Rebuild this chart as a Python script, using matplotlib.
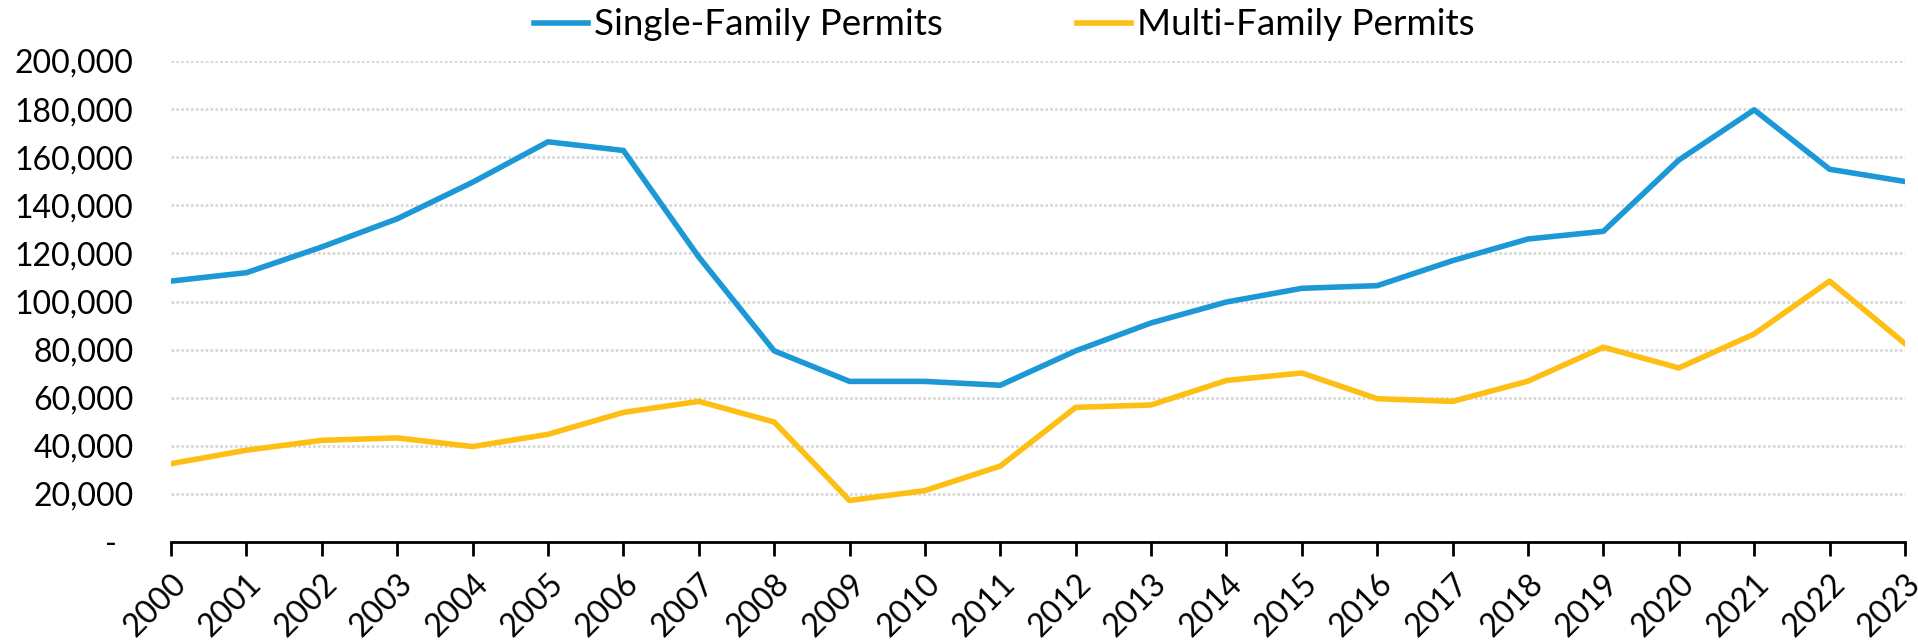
import matplotlib
matplotlib.use("Agg")
import matplotlib.pyplot as plt
from matplotlib.ticker import FuncFormatter, MultipleLocator

plt.rcParams['font.family'] = ['Lato', 'DejaVu Sans']

years = list(range(2000, 2024))
single_family = [108500, 112000, 122700, 134400, 149600, 166400, 162800, 118500,
                 79500, 66800, 66800, 65200, 79500, 91100, 99800, 105500,
                 106600, 117000, 126000, 129200, 158800, 179700, 155000, 149900]
multi_family = [32600, 38200, 42300, 43300, 39700, 44800, 53900, 58500,
                49900, 17300, 21400, 31600, 56000, 57000, 67200, 70300,
                59600, 58500, 66900, 81000, 72400, 86500, 108500, 82500]

blue = '#1b98d5'
gold = '#fdbf14'

fig = plt.figure(figsize=(19.18, 6.4), dpi=100)
ax = fig.add_axes([0.0892, 0.153, 0.904, 0.7517])

ax.plot(years, single_family, color=blue, linewidth=4.0, label='Single-Family Permits')
ax.plot(years, multi_family, color=gold, linewidth=4.0, label='Multi-Family Permits')

ax.set_xlim(2000, 2023)
ax.set_ylim(0, 200000)
ax.yaxis.set_major_locator(MultipleLocator(20000))
ax.set_xticks(years)
ax.set_xticklabels([str(y) for y in years], rotation=45, ha='right',
                   rotation_mode='anchor', fontsize=23)

# accounting style: zero shown as a dash
def fmt(v, pos):
    if v == 0:
        return '-  '
    return f'{int(v):,}'

ax.yaxis.set_major_formatter(FuncFormatter(fmt))
ax.tick_params(axis='y', length=0, labelsize=23, pad=27)
ax.tick_params(axis='x', length=10, width=2, direction='out', pad=9)

ax.grid(axis='y', linestyle=(0, (1, 0.85)), color='#d6d6d6', linewidth=1.9)
ax.set_axisbelow(True)
for side in ['top', 'right', 'left']:
    ax.spines[side].set_visible(False)
ax.spines['bottom'].set_linewidth(2)
ax.spines['bottom'].set_color('black')

fig.legend(loc='center', bbox_to_anchor=(0.5235, 0.961), ncol=2, frameon=False,
           fontsize=26.5, handlelength=1.47, handletextpad=0.16, columnspacing=3.64,
           borderaxespad=0, borderpad=0)

fig.savefig('out.png', dpi=100)
